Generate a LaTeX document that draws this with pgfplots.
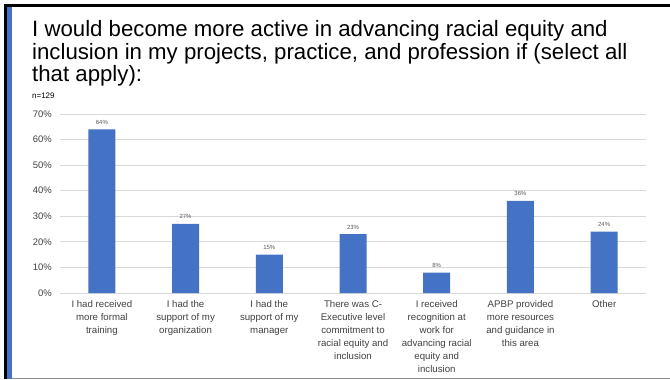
\documentclass[border=0pt]{standalone}
\usepackage{fontspec}
\setmainfont{Liberation Sans}
\usepackage{pgfplots}
\pgfplotsset{compat=1.18}
\definecolor{barblue}{HTML}{4472C4}
\definecolor{lblgray}{HTML}{595959}
\definecolor{txtgray}{HTML}{404040}
\definecolor{gridgray}{HTML}{D9D9D9}
\begin{document}
\begin{tikzpicture}[x=1bp,y=1bp]
\useasboundingbox (0,0) rectangle (670,379);
% frame
\fill[black] (4,374.5) rectangle (670,372);
\fill[black] (4,374.5) rectangle (7,0);
\fill[barblue] (7,372) rectangle (12,0);
\fill[gray!90] (12,0) rectangle (670,1.5);
% title
\node[anchor=base west,inner sep=0pt,font=\fontsize{22.3}{24}\selectfont] at (32,342.3) {I would become more active in advancing racial equity and};
\node[anchor=base west,inner sep=0pt,font=\fontsize{22.3}{24}\selectfont] at (32,320) {inclusion in my projects, practice, and profession if (select all};
\node[anchor=base west,inner sep=0pt,font=\fontsize{22.3}{24}\selectfont] at (32,297.3) {that apply):};
\node[anchor=base west,inner sep=0pt,font=\fontsize{8}{9}\selectfont] at (32,280.7) {n=129};
\begin{axis}[
  at={(60bp,86bp)}, anchor=south west,
  width=586bp, height=179bp, scale only axis,
  xmin=-0.5, xmax=6.5, ymin=0, ymax=70,
  axis line style={draw=none},
  major tick length=0pt,
  ytick={0,10,...,70},
  yticklabel={\pgfmathprintnumber{\tick}\%},
  ymajorgrids, grid style={gridgray, line width=0.8pt},
  yticklabel style={font=\fontsize{9.5}{11}\selectfont, color=txtgray, inner sep=0pt, anchor=east, xshift=-8bp},
  /pgf/number format/assume math mode=true,
  xtick={0,...,6},
  xticklabels={
    {I had received\\more formal\\training},
    {I had the\\support of my\\organization},
    {I had the\\support of my\\manager},
    {There was C-\\Executive level\\commitment to\\racial equity and\\inclusion},
    {I received\\recognition at\\work for\\advancing racial\\equity and\\inclusion},
    {APBP provided\\more resources\\and guidance in\\this area},
    {Other}},
  xticklabel style={font=\fontsize{9.7}{13}\selectfont, color=txtgray, align=center, anchor=north, inner sep=0pt, yshift=-7.5bp},
  ybar, bar width=27bp,
  nodes near coords={\pgfmathprintnumber{\pgfplotspointmeta}\%},
  every node near coord/.append style={font=\fontsize{6}{7}\selectfont, color=lblgray, inner sep=0pt, anchor=base, yshift=5bp},
  clip=false,
]
\addplot[fill=barblue, draw=none] coordinates {(0,64) (1,27) (2,15) (3,23) (4,8) (5,36) (6,24)};
\end{axis}
\end{tikzpicture}
\end{document}
